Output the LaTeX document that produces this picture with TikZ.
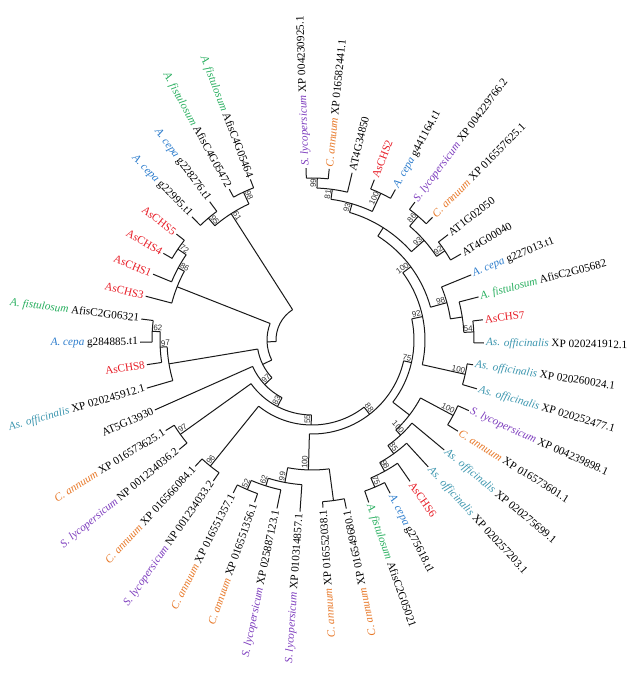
\documentclass[tikz,border=0pt]{standalone}
\usepackage{fontspec}
\setmainfont{Liberation Serif}
\newfontfamily\bsfont{Liberation Sans}
\definecolor{slc}{RGB}{125,60,190}
\definecolor{cac}{RGB}{232,120,40}
\definecolor{afc}{RGB}{40,175,95}
\definecolor{acc}{RGB}{45,125,205}
\definecolor{aoc}{RGB}{60,150,175}
\definecolor{asr}{RGB}{232,30,40}
\newcommand\spSl{\textcolor{slc}{\textit{S. lycopersicum}}}
\newcommand\spCa{\textcolor{cac}{\textit{C. annuum}}}
\newcommand\spAf{\textcolor{afc}{\textit{A. fistulosum}}}
\newcommand\spAc{\textcolor{acc}{\textit{A. cepa}}}
\newcommand\spAo{\textcolor{aoc}{\textit{As. officinalis}}}
\newcommand\chs[1]{\textcolor{asr}{AsCHS#1}}
\tikzset{
  br/.style={line width=1pt, black!90},
  lab/.style={inner sep=2pt, font=\fontsize{11.2}{12}\selectfont},
  bs/.style={inner sep=0.8pt, font=\bsfont\fontsize{8}{9}\selectfont, text=black!80}
}
% name, angle, radius, parent radius
\newcommand\tstem[4]{\coordinate (#1) at (#2:#3pt); \coordinate (#1-b) at (#2:#4pt); \draw[br] (#1) -- (#1-b);}
% first child name, angle1, angle2, radius
\newcommand\tarc[4]{\draw[br] (#1-b) arc[start angle=#2, end angle=#3, radius=#4pt];}
\newcommand\leafR[5]{\tstem{#1}{#2}{#3}{#4}\node[lab,anchor=west,rotate=#2] (t#1) at (#1) {#5};}
\newcommand\leafL[5]{\tstem{#1}{#2}{#3}{#4}\node[lab,anchor=east,rotate=#2+180] (t#1) at (#1) {#5};}
\newcommand\bsR[3]{\node[bs,anchor=south east,rotate=#2] (b#1) at (#1) {#3};}
\newcommand\bsL[3]{\node[bs,anchor=south west,rotate=#2+180] (b#1) at (#1) {#3};}
\begin{document}
\begin{tikzpicture}
\fill[white] (-312pt,-337pt) rectangle (324pt,340pt);
\useasboundingbox (-312pt,-337pt) rectangle (324pt,340pt);
% ---- top clade
\leafR{L1}{92}{172}{162}{\spSl\ XP 004230925.1}
\leafR{L2}{84.25}{172}{162}{\spCa\ XP 016582441.1}
\tstem{n12}{88.125}{162}{152}
\tarc{L1}{92}{84.25}{162}
\leafR{L3}{76.5}{172}{152}{AT4G34850}
\tstem{n123}{82.3125}{152}{142}
\tarc{n12}{88.125}{76.5}{152}
\leafR{L4}{68.75}{172}{162}{\chs{2}}
\leafR{L5}{61}{172}{162}{\spAc\ g441164.t1}
\tstem{n45}{64.875}{162}{142}
\tarc{L4}{68.75}{61}{162}
\tstem{n15}{73.59}{142}{133}
\tarc{n123}{82.3125}{64.875}{142}
\leafR{L6}{53.25}{172}{163}{\spSl\ XP 004229766.2}
\leafR{L7}{45.5}{172}{163}{\spCa\ XP 016557625.1}
\tstem{n67}{49.375}{163}{150}
\tarc{L6}{53.25}{45.5}{163}
\leafR{L8}{37.75}{172}{160}{AT1G02050}
\leafR{L9}{30}{172}{160}{AT4G00040}
\tstem{n89}{33.875}{160}{150}
\tarc{L8}{37.75}{30}{160}
\tstem{n69}{41.625}{150}{133}
\tarc{n67}{49.375}{33.875}{150}
\tstem{P}{57.61}{133}{123}
\tarc{n15}{73.59}{41.625}{133}
\leafR{L10}{22.25}{172}{140}{\spAc\ g227013.t1}
\leafR{L11}{14.5}{172}{152}{\spAf\ AfisC2G05682}
\leafR{L12}{6.75}{172}{162}{\chs{7}}
\leafR{L13}{-1}{172}{162}{\spAo\ XP 020241912.1}
\tstem{n1213}{2.875}{162}{152}
\tarc{L12}{6.75}{-1}{162}
\tstem{n1113}{8.6875}{152}{140}
\tarc{L11}{14.5}{2.875}{152}
\tstem{T}{15.47}{140}{123}
\tarc{L10}{22.25}{8.6875}{140}
\tstem{Q}{36.54}{123}{113}
\tarc{P}{57.61}{15.47}{123}
\leafR{L14}{-8.75}{163}{157}{\spAo\ XP 020260024.1}
\leafR{L15}{-16.5}{172}{157}{\spAo\ XP 020252477.1}
\tstem{U}{-12.625}{157}{113}
\tarc{L14}{-8.75}{-16.5}{157}
\tstem{N9}{11.96}{113}{102}
\tarc{Q}{36.54}{-12.625}{113}
\leafR{L16}{-24.25}{172}{160}{\spSl\ XP 004239898.1}
\leafR{L17}{-32}{172}{160}{\spCa\ XP 016573601.1}
\tstem{n1617}{-28.125}{160}{123}
\tarc{L16}{-24.25}{-32}{160}
\leafR{L18}{-39.75}{172}{130}{\spAo\ XP 020275699.1}
\leafR{L19}{-47.5}{172}{140}{\spAo\ XP 020257203.1}
\leafR{L20}{-55.25}{172}{150}{\chs{6}}
\leafR{L21}{-63}{172}{160}{\spAc\ g275618.t1}
\leafR{L22}{-70.75}{172}{160}{\spAf\ AfisC2G05021}
\tstem{n2122}{-66.875}{160}{150}
\tarc{L21}{-63}{-70.75}{160}
\tstem{n98}{-61.06}{150}{140}
\tarc{L20}{-55.25}{-66.875}{150}
\tstem{n85}{-54.28}{140}{130}
\tarc{L19}{-47.5}{-61.06}{140}
\tstem{V1}{-47.02}{130}{123}
\tarc{L18}{-39.75}{-54.28}{130}
\tstem{W}{-37.57}{123}{102}
\tarc{n1617}{-28.125}{-47.02}{123}
\tstem{N8}{-12.8}{102}{94}
\tarc{N9}{11.96}{-37.57}{102}
\leafL{L23}{-78.5}{172}{162}{\spCa\ XP 016549680.1}
\leafL{L24}{-86.25}{168}{162}{\spCa\ XP 016552038.1}
\tstem{n2324}{-82.375}{162}{130}
\tarc{L23}{-78.5}{-86.25}{162}
\leafL{L25}{-94}{172}{145}{\spSl\ XP 010314857.1}
\leafL{L26}{-101.75}{172}{153}{\spSl\ XP 025887123.1}
\leafL{L27}{-109.5}{172}{163}{\spCa\ XP 016551356.1}
\leafL{L28}{-117.25}{172}{163}{\spCa\ XP 016551357.1}
\tstem{n52}{-113.375}{163}{153}
\tarc{L27}{-109.5}{-117.25}{163}
\tstem{n62b}{-107.56}{153}{145}
\tarc{L26}{-101.75}{-113.375}{153}
\tstem{n99}{-100.78}{145}{130}
\tarc{L25}{-94}{-107.56}{145}
\tstem{B}{-91.58}{130}{94}
\tarc{n2324}{-82.375}{-100.78}{130}
\tstem{N7}{-52.19}{94}{85}
\tarc{N8}{-12.8}{-91.58}{94}
\leafL{L29}{-125}{172}{162}{\spSl\ NP 001234033.2}
\leafL{L30}{-132.75}{172}{162}{\spCa\ XP 016566084.1}
\tstem{n96}{-128.875}{162}{85}
\tarc{L29}{-125}{-132.75}{162}
\tstem{N6}{-90.53}{85}{75}
\tarc{N7}{-52.19}{-128.875}{85}
\leafL{L31}{-140.5}{172}{162}{\spSl\ NP 001234036.2}
\leafL{L32}{-148.25}{172}{162}{\spCa\ XP 016573625.1}
\tstem{n97b}{-144.375}{162}{75}
\tarc{L31}{-140.5}{-148.25}{162}
\tstem{N5}{-117.45}{75}{65}
\tarc{N6}{-90.53}{-144.375}{75}
\leafL{L33}{-156}{172}{65}{AT5G13930}
\tstem{N4}{-136.73}{65}{55}
\tarc{N5}{-117.45}{-156}{65}
\leafL{L34}{-163.75}{172}{145}{\spAo\ XP 020245912.1}
\leafL{L35}{-171.5}{167}{152}{\chs{8}}
\leafL{L36}{-179.25}{172}{160}{\spAc\ g284885.t1}
\leafL{L37}{-187}{172}{160}{\spAf\ AfisC2G06321}
\tstem{n62c}{-183.125}{160}{152}
\tarc{L36}{-179.25}{-187}{160}
\tstem{n97c}{-177.31}{152}{145}
\tarc{L35}{-171.5}{-183.125}{152}
\tstem{D}{-170.53}{145}{55}
\tarc{L34}{-163.75}{-177.31}{145}
\tstem{N3}{-153.63}{55}{45}
\tarc{N4}{-136.73}{-170.53}{55}
\leafL{L38}{-194.75}{172}{145}{\chs{3}}
\leafL{L39}{-202.5}{172}{152}{\chs{1}}
\leafL{L40}{-210.25}{172}{162}{\chs{4}}
\leafL{L41}{-218}{172}{162}{\chs{5}}
\tstem{n72}{-214.125}{162}{152}
\tarc{L40}{-210.25}{-218}{162}
\tstem{n86}{-208.31}{152}{145}
\tarc{L39}{-202.5}{-214.125}{152}
\tstem{X1}{-201.53}{145}{45}
\tarc{L38}{-194.75}{-208.31}{145}
\tstem{N2}{-177.58}{45}{36}
\tarc{N3}{-153.63}{-201.53}{45}
\leafL{L42}{-225.75}{172}{160}{\spAc\ g22995.t1}
\leafL{L43}{-233.5}{172}{160}{\spAc\ g228276.t1}
\tstem{n95}{-229.625}{160}{150}
\tarc{L42}{-225.75}{-233.5}{160}
\leafL{L44}{-241.25}{172}{163}{\spAf\ AfisC4G05472}
\leafL{L45}{-249}{172}{163}{\spAf\ AfisC4G05464}
\tstem{n98c}{-245.125}{163}{150}
\tarc{L44}{-241.25}{-249}{163}
\tstem{A}{-237.375}{150}{36}
\tarc{n95}{-229.625}{-245.125}{150}
\coordinate (N1) at (-207.48:36pt);
\tarc{N2}{-177.58}{-237.375}{36}
% ---- bootstrap values
\bsR{n12}{88.125}{99}
\bsR{n123}{82.3125}{81}
\bsR{n15}{73.59}{93}
\bsR{n45}{64.875}{100}
\bsR{n67}{49.375}{86}
\bsR{n89}{33.875}{92}
\bsR{n69}{41.625}{93}
\bsR{Q}{36.54}{100}
\bsR{T}{15.47}{98}
\bsR{n1213}{2.875}{54}
\bsR{U}{-12.625}{100}
\bsR{N9}{11.96}{92}
\bsR{N8}{-12.8}{75}
\bsR{n1617}{-28.125}{100}
\bsR{V1}{-47.02}{100}
\bsR{n85}{-54.28}{85}
\bsR{n98}{-61.06}{98}
\bsR{n2122}{-66.875}{75}
\bsR{N7}{-52.19}{88}
\bsL{B}{-91.58}{100}
\bsL{n99}{-100.78}{99}
\bsL{n62b}{-107.56}{62}
\bsL{n52}{-113.375}{52}
\bsL{N6}{-90.53}{55}
\bsL{n96}{-128.875}{96}
\bsL{N5}{-117.45}{83}
\bsL{n97b}{-144.375}{97}
\bsL{N4}{-136.73}{97}
\bsL{n97c}{-177.31}{97}
\bsL{n62c}{-183.125}{62}
\bsL{n86}{-208.31}{86}
\bsL{n72}{-214.125}{72}
\bsL{n95}{-229.625}{95}
\bsL{A}{-237.375}{61}
\bsL{n98c}{-245.125}{98}
\end{tikzpicture}
\end{document}
